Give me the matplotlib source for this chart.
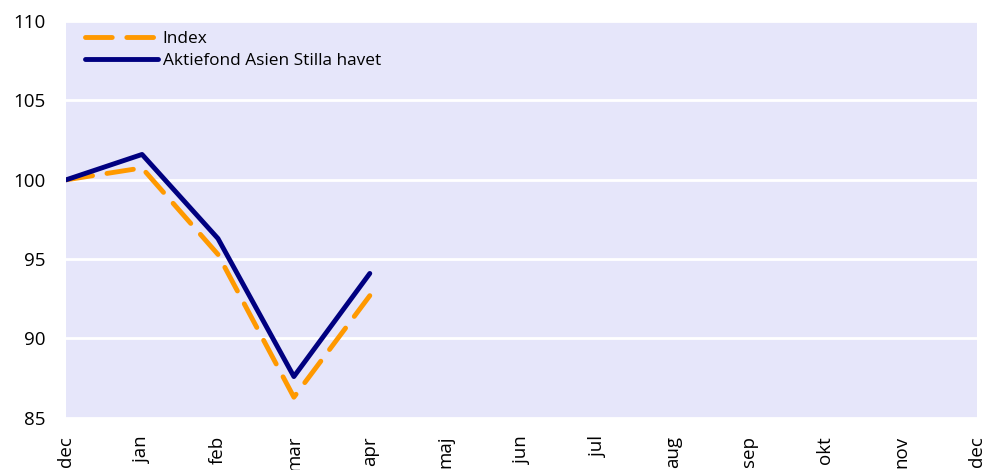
import matplotlib
matplotlib.use("Agg")
import matplotlib.pyplot as plt

# Monthly values, indexed to 100 at the start of the year
months = ["dec", "jan", "feb", "mar", "apr", "maj", "jun", "jul",
          "aug", "sep", "okt", "nov", "dec"]
index_vals = [100.0, 100.75, 95.3, 86.3, 92.7]
fund_vals = [100.0, 101.6, 96.3, 87.6, 94.1]

plt.rcParams['font.family'] = ['Open Sans', 'DejaVu Sans']

fig = plt.figure(figsize=(9.87, 4.70), dpi=100)
ax = fig.add_axes([0.067, 0.111, 0.923, 0.844])
ax.set_facecolor("#E6E6FA")

x_idx = list(range(len(index_vals)))
x_fund = list(range(len(fund_vals)))

ax.plot(x_idx, index_vals, color="#FF9900", lw=3.5, dashes=(5.5, 3),
        dash_capstyle="round", label="Index", zorder=3)
ax.plot(x_fund, fund_vals, color="#000080", lw=3.5,
        solid_capstyle="round", label="Aktiefond Asien Stilla havet", zorder=4)

ax.set_xlim(0, len(months) - 1)
ax.set_ylim(85, 110)
ax.set_yticks([85, 90, 95, 100, 105, 110])
ax.set_xticks(range(len(months)))
ax.set_xticklabels(months, rotation=90, fontsize=13.5)
ax.tick_params(axis="y", labelsize=13.5, length=0, pad=15)
ax.tick_params(axis="x", length=0, pad=13)
ax.grid(axis="y", color="white", lw=2)
ax.set_axisbelow(True)
for s in ax.spines.values():
    s.set_visible(False)

ax.legend(loc="upper left", bbox_to_anchor=(0.003, 1.016), frameon=False,
          fontsize=12.4, handlelength=4.2, borderaxespad=0.55, borderpad=0.4,
          labelspacing=0.35, handletextpad=0.3)

fig.savefig("out.png", dpi=100)
